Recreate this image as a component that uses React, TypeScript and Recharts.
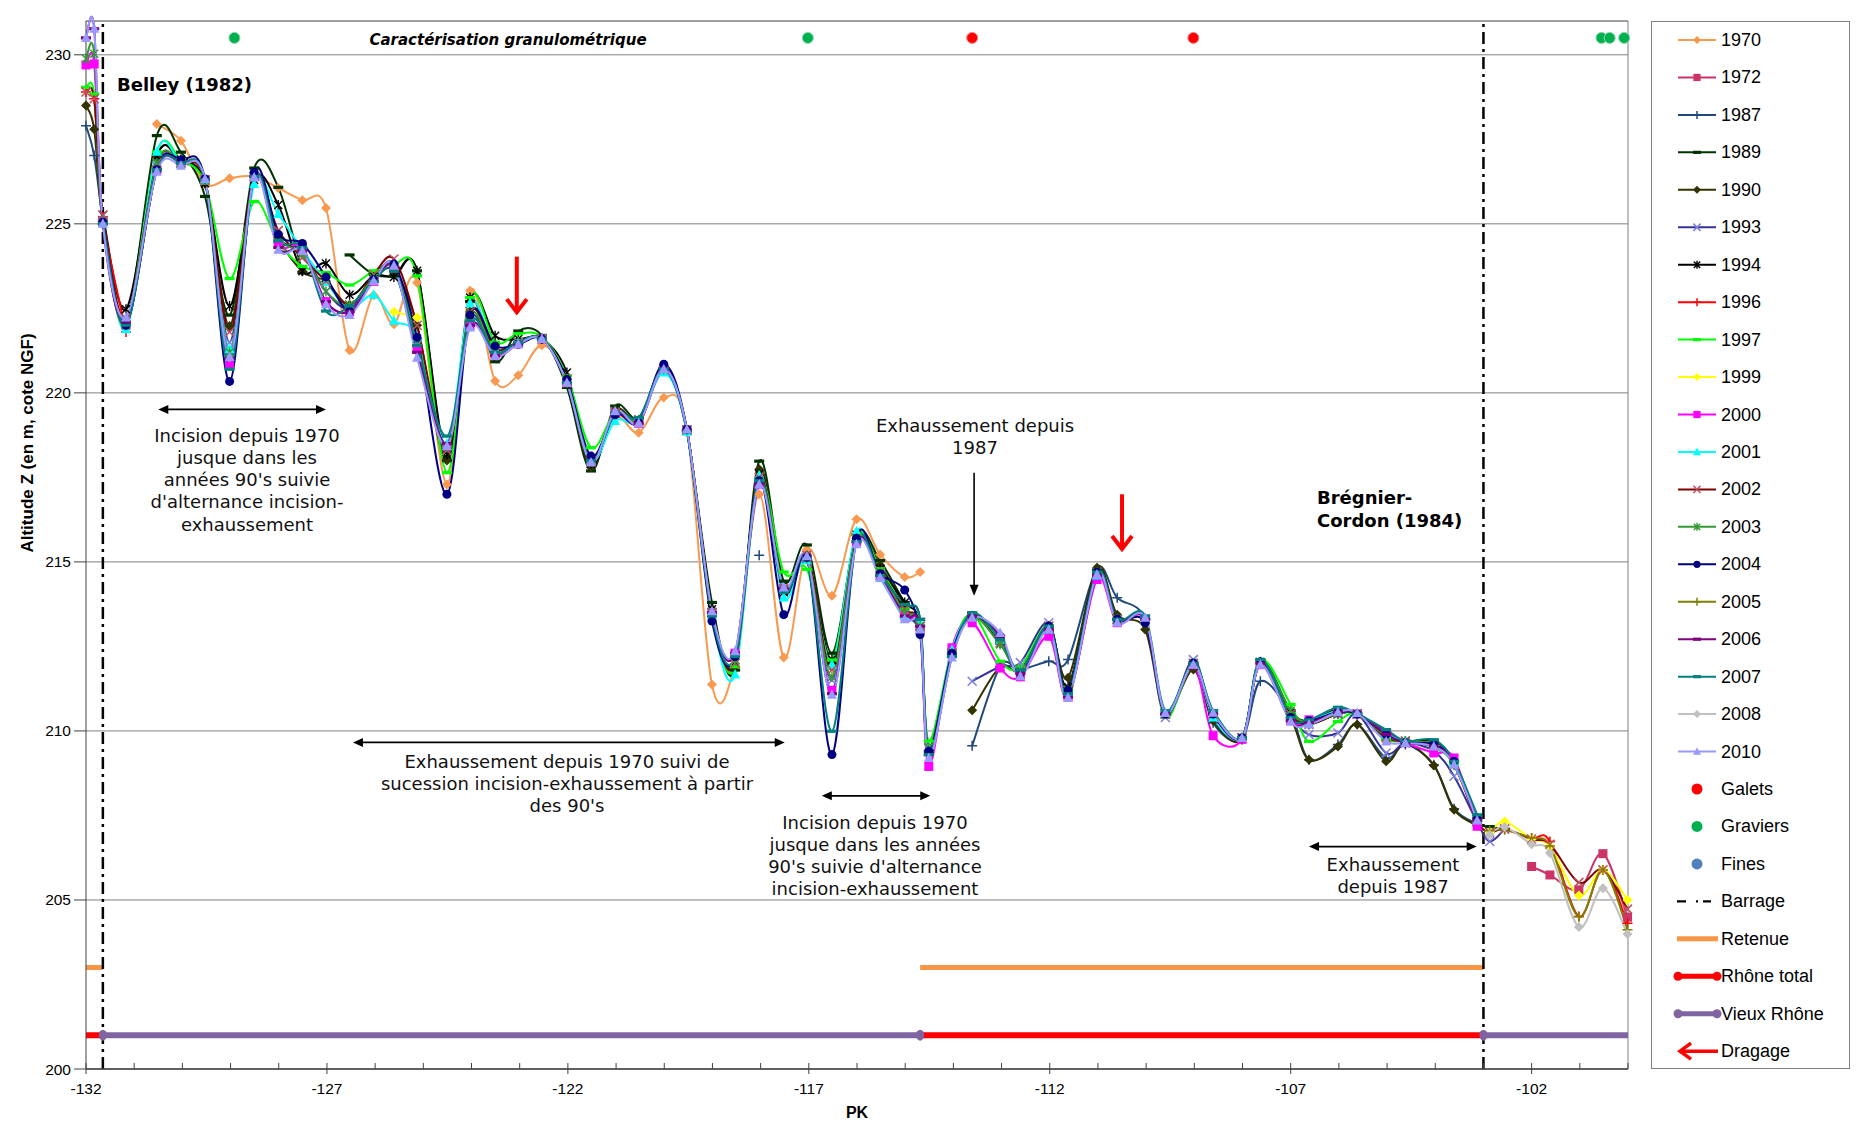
import React from 'react';
import { ComposedChart, Line, XAxis, YAxis, CartesianGrid, ReferenceLine, Legend } from 'recharts';

const W = 1849;
const H = 1115;
const _ = null;

// PK of the surveyed profiles
const PK = [
  -132, -131.83, -131.65, -131.17, -130.53, -130.03, -129.53, -129.02, -128.51, -128.01,
  -127.51, -127.02, -126.53, -126.03, -125.61, -125.13, -124.51, -124.03, -123.51, -123.03,
  -122.54, -122.02, -121.52, -121.02, -120.53, -120.01, -119.53, -119.01, -118.53, -118.03,
  -117.52, -117.04, -116.52, -116.01, -115.52, -115.01, -114.69, -114.51, -114.03, -113.61,
  -113.03, -112.61, -112.02, -111.62, -111.02, -110.6, -110.02, -109.6, -109.02, -108.61,
  -108.01, -107.63, -107.0, -106.62, -106.02, -105.62, -105.02, -104.62, -104.03, -103.61,
  -103.13, -102.87, -102.56, -102.0, -101.62, -101.02, -100.52, -100.01,
];

// altitude Z (m NGF) per survey year
const Z1970 = [
  _, _, _, _, 227.95, 227.46, 226.18, 226.35, 226.4, 226.06,
  225.7, 225.47, 221.26, 222.89, 222.03, 223.26, 217.29, 223.02, 220.35, 220.52,
  221.41, 220.5, 218.0, 219.3, 218.82, 219.86, 218.92, 211.37, 212.0, 217.0,
  212.17, 215.37, 214.0, 216.26, 215.22, 214.55, 214.7, _, _, _,
  _, _, _, _, _, _, _, _, _, _,
  _, _, _, _, _, _, _, _, _, _,
  _, _, _, _, _, _, _, _,
];
const Z1972 = [
  _, _, _, _, _, _, _, _, _, _,
  _, _, _, _, _, _, _, _, _, _,
  _, _, _, _, _, _, _, _, _, _,
  _, _, _, _, _, _, _, _, _, _,
  _, _, _, _, _, _, _, _, _, _,
  _, _, _, _, _, _, _, _, _, _,
  _, _, _, 205.99, 205.74, 205.3, 206.37, 204.49,
];
const Z1987 = [
  227.9, 227.02, 225.0, _, _, _, _, _, _, _,
  _, _, _, _, _, _, _, _, _, _,
  _, _, _, _, _, _, _, _, _, 215.2,
  _, _, _, _, _, _, _, _, _, 209.56,
  211.9, 211.82, 212.06, 212.11, 214.8, 213.94, 213.3, 210.5, 212.0, 210.24,
  209.75, 211.47, 210.5, 209.15, 209.6, 210.2, 209.2, 209.6, 209.0, 207.7,
  207.25, _, _, _, _, _, _, _,
];
const Z1989 = [
  _, _, 225.1, 222.1, 227.61, 227.12, 225.81, 222.3, 226.65, 226.08,
  223.56, _, 224.08, 223.5, 223.46, 223.61, 218.0, 222.7, 220.92, 221.83,
  221.7, 220.16, 217.69, 219.61, 219.25, 220.75, 218.85, 213.8, 211.8, 217.98,
  214.43, 215.5, 212.3, 215.81, 215.04, 213.8, 213.3, 209.4, 212.3, 213.49,
  212.6, 211.8, 213.1, 211.3, 214.75, 213.3, 213.3, 210.5, 212.0, 210.5,
  209.8, 212.1, 210.6, 210.3, 210.65, 210.5, 210.0, 209.7, 209.7, 209.1,
  207.4, 207.17, 207.1, _, _, _, _, _,
];
const Z1990 = [
  228.5, 227.8, 225.1, 222.0, 227.0, 226.8, 226.2, 221.98, 226.4, 224.6,
  223.6, 223.3, 222.6, 223.4, 223.6, 222.0, 218.0, 222.4, 221.2, 221.5,
  221.6, 220.3, 217.8, 219.5, 219.2, 220.7, 218.9, 213.6, 211.9, 217.74,
  214.2, 215.2, 212.0, 215.7, 214.9, 213.7, 213.0, _, _, 210.61,
  211.9, 211.8, 213.0, 211.57, 214.83, 213.44, 213.0, 210.5, 211.82, 210.3,
  209.75, 212.0, 210.4, 209.15, 209.54, 210.19, 209.1, 209.64, 208.98, 207.67,
  207.2, _, _, _, _, _, _, _,
];
const Z1993 = [
  _, _, 225.1, 222.1, 226.7, 226.8, 226.3, 221.5, 226.4, 224.6,
  224.2, 223.0, 222.5, 223.3, 223.7, 221.5, 218.3, 222.2, 221.2, 221.5,
  221.6, 220.3, 218.0, 219.4, 219.2, 220.7, 218.9, 213.5, 212.1, 217.4,
  214.2, 215.1, 211.5, 215.7, 214.6, 213.5, 213.1, _, _, 211.47,
  211.9, 212.02, 213.2, 211.2, 214.6, 213.3, 213.3, 210.4, 212.11, 210.4,
  209.8, 212.0, 210.5, 209.89, 209.94, 210.5, 209.35, 209.64, 209.4, 208.66,
  207.3, 206.73, 207.1, _, _, _, _, _,
];
const Z1994 = [
  _, _, 225.26, 222.47, 227.0, 226.9, 226.2, 222.57, 226.3, 225.56,
  223.6, 223.83, 222.9, 223.46, 223.43, 223.61, 218.18, 222.82, 221.69, 221.59,
  221.6, 220.6, 217.9, 219.4, 219.2, 220.7, 218.9, 213.6, 212.02, 217.6,
  214.1, 215.1, 212.11, 215.8, 214.8, 213.8, 213.1, 209.5, 212.3, 213.4,
  212.6, 211.8, 213.1, 211.3, 214.7, 213.3, 213.3, 210.5, 212.0, 210.5,
  209.8, 212.0, 210.54, 210.2, 210.5, 210.5, 209.8, 209.7, 209.6, 209.0,
  207.35, _, _, _, _, _, _, _,
];
const Z1996 = [
  228.9, 228.7, 225.2, 221.8, _, _, _, _, _, _,
  _, _, _, _, _, _, _, _, _, _,
  _, _, _, _, _, _, _, _, _, _,
  _, _, _, _, _, _, _, _, _, _,
  _, _, _, _, _, _, _, _, _, _,
  _, _, _, _, _, _, _, _, _, _,
  _, _, 207.1, 206.83, 206.73, 204.51, 205.89, 204.31,
];
const Z1997 = [
  229.04, 228.84, 225.1, 222.1, 227.13, 226.9, 226.2, 223.38, 225.66, 224.45,
  223.74, 223.56, 223.19, 223.61, 223.8, 223.46, 217.64, 222.82, 221.5, 221.75,
  221.65, 220.5, 218.38, 219.4, 219.2, 220.7, 218.9, 213.5, 211.9, 217.4,
  214.7, 214.78, 212.1, 215.8, 214.8, 213.6, 213.1, 209.7, 212.4, 213.45,
  212.06, 211.9, 213.1, 211.2, 214.7, 213.3, 213.3, 210.4, 212.0, 210.6,
  209.8, 212.11, 210.78, 209.69, 210.28, 210.5, 209.75, 209.7, 209.5, 209.0,
  207.35, _, _, _, _, _, _, _,
];
const Z1999 = [
  _, _, _, _, _, _, _, _, _, _,
  _, _, _, _, 222.4, 222.23, _, _, _, _,
  _, _, _, _, _, _, _, _, _, _,
  _, _, _, _, _, _, _, _, _, _,
  _, _, _, _, _, _, _, _, _, _,
  _, _, _, _, _, _, _, _, _, _,
  _, 207.0, 207.32, 206.8, 206.58, 205.13, 205.89, 205.0,
];
const Z2000 = [
  229.7, 229.73, 225.1, 222.0, 226.6, 226.8, 226.3, 220.8, 226.4, 224.4,
  224.3, 222.7, 222.4, 223.3, 223.7, 221.3, 218.4, 222.0, 221.1, 221.45,
  221.6, 220.3, 218.0, 219.4, 219.1, 220.7, 218.9, 213.5, 212.3, 217.3,
  214.2, 215.1, 211.2, 215.6, 214.6, 213.4, 213.0, 208.95, 212.46, 213.2,
  211.86, 211.6, 212.8, 211.0, 214.48, 213.2, 213.3, 210.5, 211.96, 209.86,
  209.75, 211.96, 210.3, 210.33, 210.53, 210.5, 209.94, 209.65, 209.35, 209.2,
  207.18, _, _, _, _, _, _, _,
];
const Z2001 = [
  _, _, 225.0, 221.88, 227.13, 226.8, 226.3, 221.3, 226.18, 225.29,
  224.23, 223.28, 222.5, 222.9, 222.13, 221.64, 218.5, 222.65, 221.3, 221.5,
  221.6, 220.4, 218.0, 219.17, 219.15, 220.6, 218.85, 213.4, 211.67, 217.56,
  213.95, 215.05, 211.96, 215.91, 214.53, 213.4, 213.2, 209.5, 212.4, 213.4,
  212.7, 211.8, 213.0, 211.1, 214.6, 213.3, 213.3, 210.5, 212.0, 210.4,
  209.8, 212.0, 210.4, 210.3, 210.6, 210.5, 209.9, 209.7, 209.6, 209.1,
  207.4, _, _, _, _, _, _, _,
];
const Z2002 = [
  228.9, 228.7, 225.26, 222.2, 226.8, 226.8, 226.3, 221.8, 226.4, 224.8,
  224.0, 223.3, 222.6, 223.5, 223.96, 222.0, 218.3, 222.4, 221.3, 221.5,
  221.6, 220.4, 218.0, 219.4, 219.2, 220.7, 218.9, 213.5, 212.0, 217.5,
  214.2, 215.2, 211.8, 215.7, 214.7, 213.6, 213.1, 209.5, 212.3, 213.4,
  212.6, 211.8, 213.1, 211.2, 214.7, 213.3, 213.3, 210.5, 212.0, 210.5,
  209.8, 212.0, 210.5, 210.2, 210.5, 210.5, 209.8, 209.7, 209.6, 209.0,
  207.35, 207.0, 207.1, 206.8, 206.65, 205.52, 205.89, 204.73,
];
const Z2003 = [
  229.88, 230.03, 225.1, 222.0, 226.8, 226.8, 226.3, 221.2, 226.4, 224.6,
  224.1, 223.0, 222.6, 223.4, 223.7, 221.6, 218.4, 222.3, 221.2, 221.5,
  221.6, 220.3, 218.0, 219.4, 219.2, 220.7, 218.9, 213.5, 212.1, 217.4,
  214.2, 215.1, 211.6, 215.7, 214.7, 213.5, 213.1, 209.5, 212.3, 213.4,
  212.56, 211.8, 213.0, 211.2, 214.7, 213.3, 213.3, 210.5, 212.0, 210.5,
  209.8, 212.05, 210.6, 210.25, 210.5, 210.5, 209.85, 209.7, 209.6, 209.0,
  207.4, _, _, _, _, _, _, _,
];
const Z2004 = [
  _, _, 225.05, 222.0, 226.6, 226.89, 226.33, 220.34, 226.52, 224.69,
  224.42, 223.43, 222.42, 223.35, 223.81, 221.64, 217.0, 222.3, 221.39, 221.44,
  221.59, 220.4, 218.13, 219.35, 219.12, 220.85, 218.92, 213.25, 212.2, 217.4,
  213.44, 215.13, 209.3, 215.7, 214.65, 214.17, 212.85, 209.4, 212.3, 213.4,
  212.8, 211.7, 213.1, 211.2, 214.7, 213.3, 213.2, 210.5, 212.0, 210.5,
  209.8, 212.05, 210.4, 210.3, 210.55, 210.5, 209.9, 209.65, 209.6, 209.1,
  207.4, _, _, _, _, _, _, _,
];
const Z2005 = [
  _, _, _, _, _, _, _, _, _, _,
  _, _, _, _, _, _, _, _, _, _,
  _, _, _, _, _, _, _, _, _, _,
  _, _, _, _, _, _, _, _, _, _,
  _, _, _, _, _, _, _, _, _, _,
  _, _, _, _, _, _, _, _, _, _,
  _, 207.05, 207.08, 206.83, 206.6, 204.5, 205.89, 204.12,
];
const Z2006 = [
  230.5, 230.77, 225.0, 222.1, 226.6, 226.8, 226.3, 221.0, 226.4, 224.3,
  224.2, 222.7, 222.4, 223.3, 223.7, 221.2, 218.5, 222.0, 221.1, 221.45,
  221.6, 220.3, 218.0, 219.4, 219.1, 220.7, 218.9, 213.5, 212.3, 217.3,
  214.2, 215.1, 211.1, 215.6, 214.6, 213.4, 213.1, 209.3, 212.2, 213.4,
  212.8, 211.7, 213.0, 211.0, 214.6, 213.3, 213.3, 210.5, 212.0, 210.5,
  209.8, 212.0, 210.3, 210.25, 210.55, 210.53, 209.9, 209.65, 209.55, 209.1,
  207.35, _, _, _, _, _, _, _,
];
const Z2007 = [
  _, _, 225.0, 222.0, 226.6, 226.8, 226.3, 220.7, 226.4, 224.5,
  224.3, 222.42, 222.57, 223.3, 223.6, 221.4, 218.72, 222.13, 221.2, 221.5,
  221.6, 220.3, 218.0, 219.4, 219.27, 220.7, 218.85, 213.4, 212.2, 217.4,
  214.1, 215.1, 209.99, 215.6, 214.6, 213.74, 213.3, 209.3, 212.2, 213.49,
  212.7, 211.8, 213.1, 211.1, 214.7, 213.3, 213.4, 210.6, 212.0, 210.6,
  209.8, 212.11, 210.4, 210.33, 210.7, 210.5, 210.04, 209.7, 209.74, 209.1,
  207.52, _, _, _, _, _, _, _,
];
const Z2008 = [
  _, _, _, _, _, _, _, _, _, _,
  _, _, _, _, _, _, _, _, _, _,
  _, _, _, _, _, _, _, _, _, _,
  _, _, _, _, _, _, _, _, _, _,
  _, _, _, _, _, _, _, _, _, _,
  _, _, _, _, _, _, _, _, _, _,
  _, 206.93, 207.16, 206.65, 206.39, 204.2, 205.35, 203.99,
];
const Z2010 = [
  230.5, 230.77, 225.0, 222.23, 226.54, 226.72, 226.33, 221.06, 226.37, 224.23,
  224.2, 222.62, 222.3, 223.31, 223.76, 221.04, 218.43, 221.93, 221.09, 221.44,
  221.59, 220.3, 217.94, 219.46, 219.1, 220.7, 218.92, 213.54, 212.36, 217.29,
  214.24, 215.17, 211.07, 215.52, 214.53, 213.3, 213.0, 209.2, 212.17, 213.35,
  212.9, 211.62, 213.0, 210.98, 214.63, 213.2, 213.35, 210.53, 211.96, 210.54,
  209.79, 211.96, 210.28, 210.19, 210.55, 210.53, 209.69, 209.64, 209.54, 209.0,
  207.35, _, _, _, _, _, _, _,
];

const Y_TICKS = [200, 205, 210, 215, 220, 225, 230];
const X_TICKS = [
  -132, -131, -130, -129, -128, -127, -126, -125, -124, -123, -122, -121, -120, -119, -118, -117,
  -116, -115, -114, -113, -112, -111, -110, -109, -108, -107, -106, -105, -104, -103, -102, -101, -100,
];
const X_LABELS = [-132, -127, -122, -117, -112, -107, -102];

const BARRAGE_PK = [-131.65, -103.0];
const RETENUE_PK = [-132, -131.65, -131.64, -114.69, -103.0];
const RETENUE_Z = [203, 203, _, 203, 203];
const RHONE_TOTAL_PK = [-132, -131.65, -131.64, -114.69, -103.0];
const RHONE_TOTAL_Z = [201, 201, _, 201, 201];
const VIEUX_RHONE_PK = [-131.65, -114.69, -114.68, -103.0, -100];
const VIEUX_RHONE_Z = [201, 201, _, 201, 201];
const GALETS_PK = [-113.61, -109.02];
const GRAVIERS_PK = [-128.92, -117.02, -100.55, -100.38, -100.08];
const GRANULO_Z = 230.5;

const SERIES = [
  { name: '1970', values: Z1970, color: '#F8994F', marker: 'diamond' },
  { name: '1972', values: Z1972, color: '#CC3366', marker: 'square' },
  { name: '1987', values: Z1987, color: '#1F497D', marker: 'plus' },
  { name: '1989', values: Z1989, color: '#003300', marker: 'dash' },
  { name: '1990', values: Z1990, color: '#333300', marker: 'diamond' },
  { name: '1993', values: Z1993, color: '#333399', marker: 'x', markerColor: '#7F7FE0' },
  { name: '1994', values: Z1994, color: '#000000', marker: 'star' },
  { name: '1996', values: Z1996, color: '#FF0000', marker: 'plus' },
  { name: '1997', values: Z1997, color: '#00FF00', marker: 'dash' },
  { name: '1999', values: Z1999, color: '#FFFF00', marker: 'diamond' },
  { name: '2000', values: Z2000, color: '#FF00FF', marker: 'square' },
  { name: '2001', values: Z2001, color: '#00FFFF', marker: 'triangle' },
  { name: '2002', values: Z2002, color: '#800000', marker: 'x', markerColor: '#C05060' },
  { name: '2003', values: Z2003, color: '#339933', marker: 'star' },
  { name: '2004', values: Z2004, color: '#000080', marker: 'circle' },
  { name: '2005', values: Z2005, color: '#808000', marker: 'plus' },
  { name: '2006', values: Z2006, color: '#800080', marker: 'dash' },
  { name: '2007', values: Z2007, color: '#008080', marker: 'dash' },
  { name: '2008', values: Z2008, color: '#C0C0C0', marker: 'diamond' },
  { name: '2010', values: Z2010, color: '#9999FF', marker: 'triangle' },
];

const rows = PK.map((pk, i) => {
  const r: Record<string, number | null> = { pk };
  SERIES.forEach((s) => { r['z' + s.name] = s.values[i]; });
  return r;
});
const toRows = (pks: number[], zs: (number | null)[]) => pks.map((pk, i) => ({ pk, z: zs[i] }));
const retenueRows = toRows(RETENUE_PK, RETENUE_Z);
const rhoneRows = toRows(RHONE_TOTAL_PK, RHONE_TOTAL_Z);
const vieuxRows = toRows(VIEUX_RHONE_PK, VIEUX_RHONE_Z);
const galetsRows = GALETS_PK.map((pk) => ({ pk, z: GRANULO_Z }));
const gravRows = GRAVIERS_PK.map((pk) => ({ pk, z: GRANULO_Z }));

// smoothed line like the spreadsheet one (Catmull-Rom through the points)
function smoothCurve(context: any) {
  let pts: number[][] = [];
  return {
    areaStart() {},
    areaEnd() {},
    lineStart() { pts = []; },
    lineEnd() {
      const n = pts.length;
      if (!n) return;
      context.moveTo(pts[0][0], pts[0][1]);
      if (n === 1) { context.lineTo(pts[0][0], pts[0][1]); return; }
      for (let i = 0; i < n - 1; i++) {
        const p0 = pts[i > 0 ? i - 1 : i];
        const p1 = pts[i];
        const p2 = pts[i + 1];
        const p3 = pts[i + 2 < n ? i + 2 : i + 1];
        context.bezierCurveTo(
          p1[0] + (p2[0] - p0[0]) / 6, p1[1] + (p2[1] - p0[1]) / 6,
          p2[0] - (p3[0] - p1[0]) / 6, p2[1] - (p3[1] - p1[1]) / 6,
          p2[0], p2[1],
        );
      }
    },
    point(x: number, y: number) { pts.push([+x, +y]); },
  };
}

function marker(kind: string, color: string, cx: number, cy: number, key: string, k = 1) {
  const s = 5 * k;
  switch (kind) {
    case 'diamond':
      return <polygon key={key} points={`${cx},${cy - s} ${cx + s},${cy} ${cx},${cy + s} ${cx - s},${cy}`} fill={color} />;
    case 'square':
      return <rect key={key} x={cx - 4.5 * k} y={cy - 4.5 * k} width={9 * k} height={9 * k} fill={color} />;
    case 'triangle':
      return <polygon key={key} points={`${cx},${cy - 5.5 * k} ${cx + s},${cy + 4 * k} ${cx - s},${cy + 4 * k}`} fill={color} />;
    case 'circle':
      return <circle key={key} cx={cx} cy={cy} r={4.5 * k} fill={color} />;
    case 'plus':
      return <path key={key} d={`M${cx - s},${cy}H${cx + s}M${cx},${cy - s}V${cy + s}`} stroke={color} strokeWidth={1.5} />;
    case 'x':
      return <path key={key} d={`M${cx - 4.5 * k},${cy - 4.5 * k}L${cx + 4.5 * k},${cy + 4.5 * k}M${cx - 4.5 * k},${cy + 4.5 * k}L${cx + 4.5 * k},${cy - 4.5 * k}`} stroke={color} strokeWidth={1.5} />;
    case 'star':
      return <path key={key} d={`M${cx - 4 * k},${cy - 4 * k}L${cx + 4 * k},${cy + 4 * k}M${cx - 4 * k},${cy + 4 * k}L${cx + 4 * k},${cy - 4 * k}M${cx},${cy - s}V${cy + s}`} stroke={color} strokeWidth={1.4} />;
    default:
      return <rect key={key} x={cx - 5 * k} y={cy - 1.6} width={10 * k} height={3.2} fill={color} />;
  }
}

const dotFor = (kind: string, color: string, id: string) => (p: any) => {
  if (p.cx == null || p.cy == null || p.value == null || Number.isNaN(p.cy)) return <g key={`${id}-e${p.index}`} />;
  return marker(kind, color, p.cx, p.cy, `${id}-${p.index}`);
};

const PkTick = (props: any) => {
  const { x, y, payload } = props;
  const v = payload.value;
  const major = X_LABELS.includes(v);
  return (
    <g>
      <line x1={x} x2={x} y1={y - 6} y2={major ? y + 5 : y} stroke="#404040" />
      {major && (
        <text x={x} y={y + 25} textAnchor="middle" fontSize={15.5} fill="#000" fontFamily="Liberation Sans">{v}</text>
      )}
    </g>
  );
};

const doubleArrow = (p: any) => {
  const { x1, y1, x2, y2 } = p;
  const h = 10;
  const w = 4.5;
  return (
    <g>
      <line x1={x1 + h - 1} y1={y1} x2={x2 - h + 1} y2={y2} stroke="#000" strokeWidth={1.8} />
      <polygon points={`${x1},${y1} ${x1 + h},${y1 - w} ${x1 + h},${y1 + w}`} fill="#000" />
      <polygon points={`${x2},${y2} ${x2 - h},${y2 - w} ${x2 - h},${y2 + w}`} fill="#000" />
    </g>
  );
};

const downArrow = (p: any) => {
  const { x1, y1, y2 } = p;
  return (
    <g>
      <line x1={x1} y1={y1} x2={x1} y2={y2 - 9} stroke="#000" strokeWidth={1.6} />
      <polygon points={`${x1},${y2} ${x1 - 4.5},${y2 - 11} ${x1 + 4.5},${y2 - 11}`} fill="#000" />
    </g>
  );
};

const dragArrow = (p: any) => {
  const { x1, y1, y2 } = p;
  return (
    <g>
      <line x1={x1} y1={y1} x2={x1} y2={y2 - 2} stroke="#FF0000" strokeWidth={4} />
      <polyline points={`${x1 - 10},${y2 - 15} ${x1},${y2 - 2} ${x1 + 10},${y2 - 15}`} fill="none" stroke="#FF0000" strokeWidth={4} />
    </g>
  );
};

// annotation arrows: [pkStart, pkEnd, z] and vertical [pk, zTop, zBottom]
const SPAN_ARROWS = [
  [-130.5, -127.02, 219.51],
  [-126.46, -117.5, 209.66],
  [-116.73, -114.48, 208.08],
  [-106.62, -103.14, 206.58],
];
const DOWN_ARROWS = [[-113.57, 217.64, 214.0]];
const DRAGAGE = [[-123.06, 224.03, 222.33], [-110.5, 217.0, 215.32]];

const EXTRA_LEGEND = [
  { label: 'Galets', kind: 'dot', color: '#FF0000' },
  { label: 'Graviers', kind: 'dot', color: '#00B050' },
  { label: 'Fines', kind: 'dot', color: '#4F81BD' },
  { label: 'Barrage', kind: 'barrage', color: '#000000' },
  { label: 'Retenue', kind: 'thick', color: '#F79646' },
  { label: 'Rhône total', kind: 'thickDots', color: '#FF0000' },
  { label: 'Vieux Rhône', kind: 'thickDots', color: '#8064A2' },
  { label: 'Dragage', kind: 'arrow', color: '#FF0000' },
];

const LEG_W = 199;
const LEG_H = 1048;
const LEG_STEP = 37.45;

function LegendBox() {
  const items = [
    ...SERIES.map((s) => ({ label: s.name, kind: 'series', color: s.color, s })),
    ...EXTRA_LEGEND.map((e) => ({ ...e, s: null as any })),
  ];
  return (
    <svg width={LEG_W} height={LEG_H} style={{ display: 'block' }}>
      <rect x={0.5} y={0.5} width={LEG_W - 1} height={LEG_H - 1} fill="#fff" stroke="#808080" />
      {items.map((it, i) => {
        const y = 19 + i * LEG_STEP;
        let sym: React.ReactNode = null;
        if (it.kind === 'series') {
          sym = (
            <g>
              <line x1={27} x2={65} y1={y} y2={y} stroke={it.color} strokeWidth={2} />
              {marker(it.s.marker, it.s.markerColor || it.color, 46, y, 'm', 0.8)}
            </g>
          );
        } else if (it.kind === 'dot') {
          sym = <circle cx={46} cy={y} r={5.5} fill={it.color} />;
        } else if (it.kind === 'barrage') {
          sym = <path d={`M26,${y}H35M45,${y}H47M52,${y}H60`} stroke="#000" strokeWidth={2.2} />;
        } else if (it.kind === 'thick') {
          sym = <line x1={26} x2={67} y1={y} y2={y} stroke={it.color} strokeWidth={5} />;
        } else if (it.kind === 'thickDots') {
          sym = (
            <g>
              <line x1={27} x2={66} y1={y} y2={y} stroke={it.color} strokeWidth={5} />
              <circle cx={27} cy={y} r={4.5} fill={it.color} />
              <circle cx={66} cy={y} r={4.5} fill={it.color} />
            </g>
          );
        } else {
          sym = (
            <g>
              <line x1={30} x2={67} y1={y} y2={y} stroke={it.color} strokeWidth={3.5} />
              <polyline points={`${40},${y - 8} ${29},${y} ${40},${y + 8}`} fill="none" stroke={it.color} strokeWidth={3.5} />
            </g>
          );
        }
        return (
          <g key={it.label}>
            {sym}
            <text x={70} y={y} dominantBaseline="central" fontSize={18} fill="#000" fontFamily="Liberation Sans">{it.label}</text>
          </g>
        );
      })}
    </svg>
  );
}

const NOTES = [
  { x: 239, y: 427, lines: ['Incision depuis 1970', 'jusque dans les', "années 90's suivie", "d'alternance incision-", 'exhaussement'] },
  { x: 559, y: 753, lines: ['Exhaussement depuis 1970 suivi de', 'sucession incision-exhaussement à partir', "des 90's"] },
  { x: 867, y: 814, lines: ['Incision depuis 1970', 'jusque dans les années', "90's suivie d'alternance", 'incision-exhaussement'] },
  { x: 967, y: 417, lines: ['Exhaussement depuis', '1987'] },
  { x: 1385, y: 856, lines: ['Exhaussement', 'depuis 1987'] },
];

export default function App() {
  return (
    <div style={{ position: 'relative', width: W, height: H, fontFamily: 'Liberation Sans, Arial, sans-serif' }}>
      <ComposedChart width={W} height={H} data={rows} margin={{ top: 13, right: 229, bottom: 4, left: 0 }}>
        <CartesianGrid horizontal vertical={false} stroke="#808080" strokeWidth={1} />
        <XAxis
          dataKey="pk"
          type="number"
          domain={[-132, -100]}
          ticks={X_TICKS}
          interval={0}
          height={50}
          tickSize={0}
          tickMargin={0}
          tickLine={false}
          axisLine={{ stroke: '#404040', strokeWidth: 1.5 }}
          tick={PkTick}
        />
        <YAxis
          type="number"
          domain={[200, 231]}
          ticks={Y_TICKS}
          interval={0}
          width={78}
          tickSize={12}
          tickMargin={3}
          axisLine={{ stroke: '#404040' }}
          tickLine={{ stroke: '#404040' }}
          tick={{ fontSize: 15.5, fill: '#000', fontFamily: 'Liberation Sans' }}
        />
        <ReferenceLine y={231} stroke="#808080" />
        <ReferenceLine x={-100} stroke="#808080" />
        <Line data={retenueRows} dataKey="z" type="linear" stroke="#F79646" strokeWidth={5} dot={false} isAnimationActive={false} />
        <Line data={rhoneRows} dataKey="z" type="linear" stroke="#FF0000" strokeWidth={6} dot={false} isAnimationActive={false} />
        <Line
          data={vieuxRows}
          dataKey="z"
          type="linear"
          stroke="#8064A2"
          strokeWidth={6}
          isAnimationActive={false}
          dot={(p: any) =>
            p.value == null || p.payload.pk >= -100 ? <g key={`v${p.index}`} /> : <ellipse key={`v${p.index}`} cx={p.cx} cy={p.cy} rx={4} ry={5.5} fill="#8064A2" />
          }
        />
        {BARRAGE_PK.map((pk) => (
          <ReferenceLine key={pk} x={pk} stroke="#000" strokeWidth={2.5} strokeDasharray="12 5 3 5" />
        ))}
        {SERIES.map((s) => (
          <Line
            key={s.name}
            dataKey={'z' + s.name}
            name={s.name}
            type={smoothCurve as any}
            stroke={s.color}
            strokeWidth={2}
            dot={dotFor(s.marker, s.markerColor || s.color, s.name)}
            activeDot={false}
            isAnimationActive={false}
          />
        ))}
        <Line
          data={galetsRows}
          dataKey="z"
          stroke="none"
          isAnimationActive={false}
          dot={(p: any) => <circle key={`g${p.index}`} cx={p.cx} cy={p.cy} r={5.5} fill="#FF0000" stroke="#FF8080" strokeWidth={1} />}
        />
        <Line
          data={gravRows}
          dataKey="z"
          stroke="none"
          isAnimationActive={false}
          dot={(p: any) => <circle key={`v${p.index}`} cx={p.cx} cy={p.cy} r={5.5} fill="#00B050" stroke="#80D8A0" strokeWidth={1} />}
        />
        {SPAN_ARROWS.map((a, i) => (
          <ReferenceLine key={`sa${i}`} segment={[{ x: a[0], y: a[2] }, { x: a[1], y: a[2] }]} shape={doubleArrow} />
        ))}
        {DOWN_ARROWS.map((a, i) => (
          <ReferenceLine key={`da${i}`} segment={[{ x: a[0], y: a[1] }, { x: a[0], y: a[2] }]} shape={downArrow} />
        ))}
        {DRAGAGE.map((a, i) => (
          <ReferenceLine key={`dr${i}`} segment={[{ x: a[0], y: a[1] }, { x: a[0], y: a[2] }]} shape={dragArrow} />
        ))}
        <Legend
          layout="vertical"
          align="center"
          verticalAlign="middle"
          content={() => <LegendBox />}
          wrapperStyle={{ left: 1643, top: 13, width: LEG_W, height: LEG_H, margin: 0 }}
        />
      </ComposedChart>
      <svg
        width={W}
        height={H}
        style={{ position: 'absolute', left: 0, top: 0, pointerEvents: 'none' }}
        fontFamily="DejaVu Sans"
      >
        <text x={500} y={32} textAnchor="middle" dominantBaseline="central" fontSize={15} fontWeight="bold" fontStyle="italic">
          Caractérisation granulométrique
        </text>
        <text x={109} y={76} dominantBaseline="central" fontSize={18} fontWeight="bold">Belley (1982)</text>
        <text x={1309} y={489} dominantBaseline="central" fontSize={18} fontWeight="bold">Brégnier-</text>
        <text x={1309} y={512} dominantBaseline="central" fontSize={18} fontWeight="bold">Cordon (1984)</text>
        {NOTES.map((n, i) => (
          <g key={i}>
            {n.lines.map((l, j) => (
              <text key={j} x={n.x} y={n.y + j * 22.3} textAnchor="middle" dominantBaseline="central" fontSize={18} fill="#111">
                {l}
              </text>
            ))}
          </g>
        ))}
        <text
          transform="translate(19,435) rotate(-90)"
          textAnchor="middle"
          dominantBaseline="central"
          fontSize={17}
          fontWeight="bold"
          fontFamily="Liberation Sans"
        >
          Altitude Z (en m, cote NGF)
        </text>
        <text x={849} y={1104} textAnchor="middle" dominantBaseline="central" fontSize={16} fontWeight="bold" fontFamily="Liberation Sans">
          PK
        </text>
      </svg>
    </div>
  );
}
